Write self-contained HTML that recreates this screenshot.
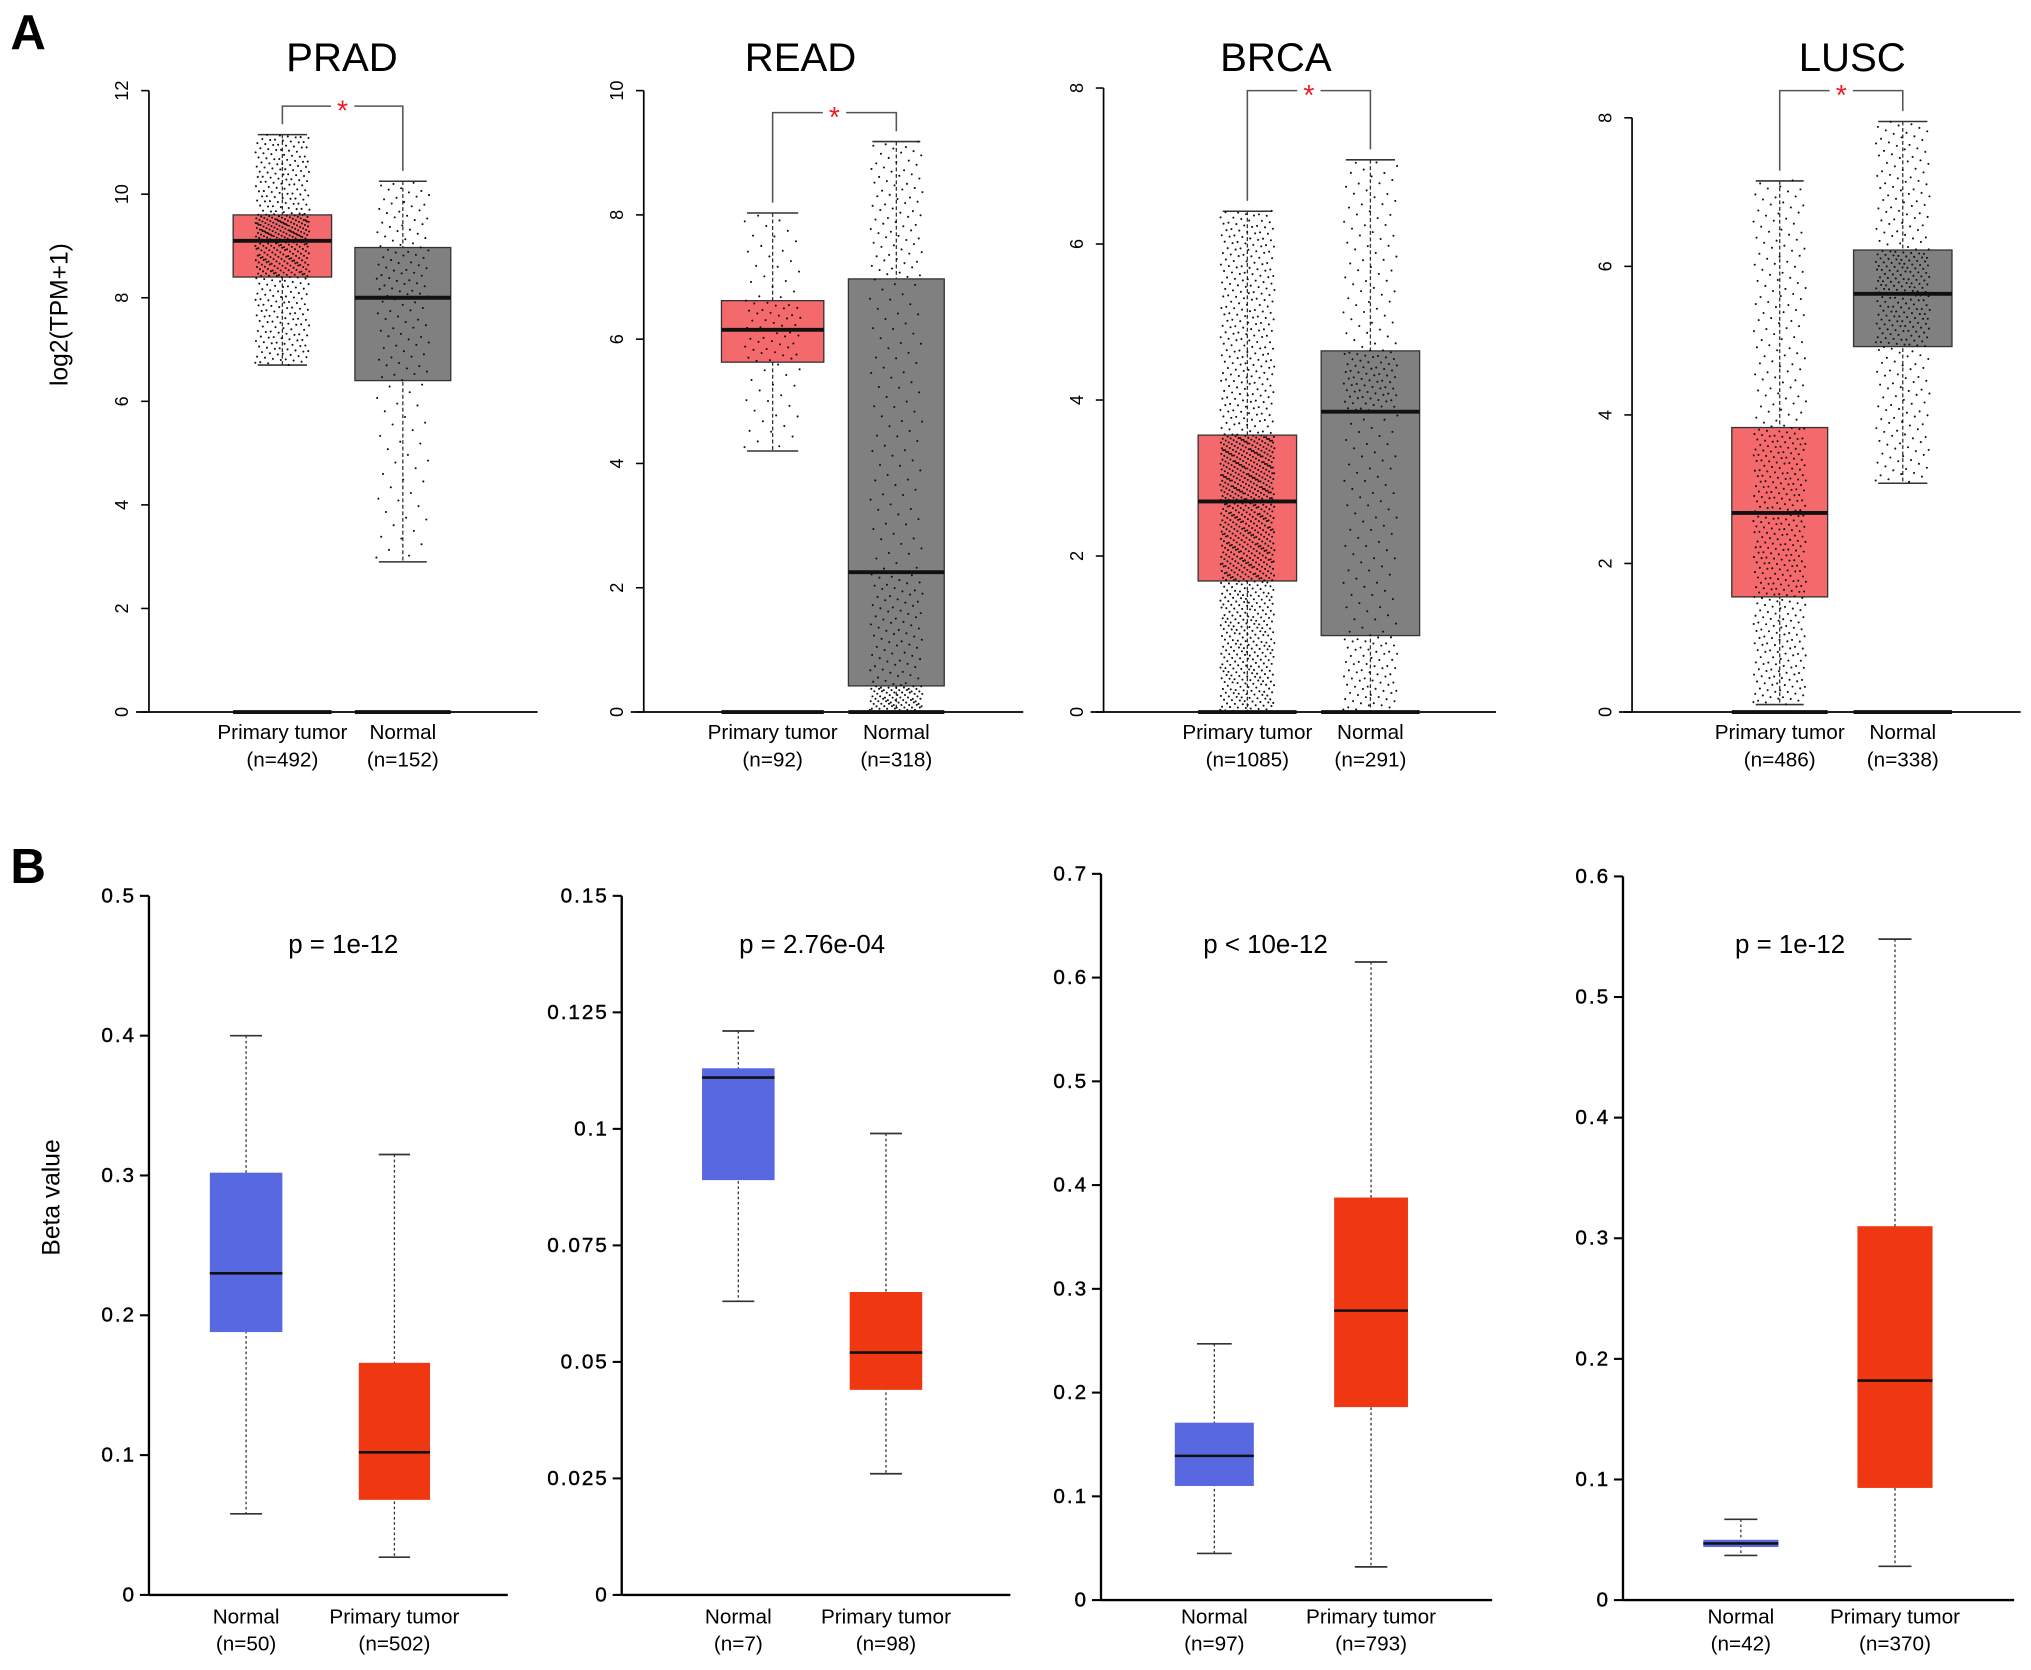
<!DOCTYPE html>
<html><head><meta charset="utf-8"><style>
html,body{margin:0;padding:0;background:#fff}
svg{display:block}
text{font-family:"Liberation Sans",Arial,sans-serif}
</style></head><body>
<svg id="fig" xmlns="http://www.w3.org/2000/svg" width="2031" height="1670" viewBox="0 0 1568 1290" preserveAspectRatio="none">
<rect width="1568" height="1290" fill="#fff"/>
<text x="8" y="38" font-size="38" font-weight="bold">A</text>
<text x="8" y="682" font-size="38" font-weight="bold">B</text>
<text transform="translate(52,243) rotate(-90)" text-anchor="middle" font-size="19">log2(TPM+1)</text>
<text transform="translate(46,925) rotate(-90)" text-anchor="middle" font-size="19">Beta value</text>
</svg>
<script>
// ---- Panel A data ----
const aTitles = ["PRAD","READ","BRCA","LUSC"];
const aMax = [12,10,8,8];
const aTickLabels = [["0","2","4","6","8","10","12"],["0","2","4","6","8","10"],["0","2","4","6","8"],["0","2","4","6","8"]];
const aGroups = ["Primary tumor","Normal"];
const aCounts = [["(n=492)","(n=152)"],["(n=92)","(n=318)"],["(n=1085)","(n=291)"],["(n=486)","(n=338)"]];
const aNums = [[492,152],[92,318],[1085,291],[486,338]];
// [low whisker, q1, median, q3, high whisker]
const aTumorStats = [[6.7,8.4,9.1,9.6,11.15],[4.2,5.63,6.15,6.62,8.03],[0,1.68,2.7,3.55,6.42],[0.1,1.55,2.68,3.83,7.15]];
const aNormalStats = [[2.9,6.4,8.0,8.97,10.25],[0,0.42,2.25,6.97,9.18],[0,0.98,3.85,4.63,7.08],[3.08,4.92,5.63,6.22,7.95]];
// ---- Panel B data ----
const bPvals = ["p = 1e-12","p = 2.76e-04","p < 10e-12","p = 1e-12"];
const bMax = [0.5,0.15,0.7,0.6];
const bTickLabels = [["0","0.1","0.2","0.3","0.4","0.5"],["0","0.025","0.05","0.075","0.1","0.125","0.15"],["0","0.1","0.2","0.3","0.4","0.5","0.6","0.7"],["0","0.1","0.2","0.3","0.4","0.5","0.6"]];
const bTickValues = [[0,0.1,0.2,0.3,0.4,0.5],[0,0.025,0.05,0.075,0.1,0.125,0.15],[0,0.1,0.2,0.3,0.4,0.5,0.6,0.7],[0,0.1,0.2,0.3,0.4,0.5,0.6]];
const bGroups = ["Normal","Primary tumor"];
const bCounts = [["(n=50)","(n=502)"],["(n=7)","(n=98)"],["(n=97)","(n=793)"],["(n=42)","(n=370)"]];
const bNormalStats = [[0.058,0.188,0.23,0.302,0.4],[0.063,0.089,0.111,0.113,0.121],[0.045,0.11,0.139,0.171,0.247],[0.037,0.044,0.047,0.05,0.067]];
const bTumorStats = [[0.027,0.068,0.102,0.166,0.315],[0.026,0.044,0.052,0.065,0.099],[0.032,0.186,0.279,0.388,0.615],[0.028,0.093,0.182,0.31,0.548]];

// layout (not data)
const aLayout = [
 {ax:115,top:70,bot:550,xend:415,b:[[180,256],[274,348]],tx:264,by:82},
 {ax:497,top:70,bot:550,xend:790,b:[[557,636],[655,729]],tx:618,by:87},
 {ax:852,top:68,bot:550,xend:1155,b:[[925,1001],[1020,1096]],tx:985,by:70},
 {ax:1260,top:91,bot:550,xend:1560,b:[[1337,1411],[1431,1507]],tx:1430,by:70}];
const bLayout = [
 {ax:115,top:692,bot:1232,xend:392,b:[[162,218],[277,332]],px:265},
 {ax:480,top:692,bot:1232,xend:780,b:[[542,598],[656,712]],px:627},
 {ax:850,top:675,bot:1236,xend:1152,b:[[907,968],[1030,1087]],px:977},
 {ax:1253,top:677,bot:1236,xend:1555,b:[[1315,1373],[1434,1492]],px:1382}];

const NS="http://www.w3.org/2000/svg";
const svg=document.getElementById('fig');
function mk(tag,attrs,parent){const e=document.createElementNS(NS,tag);for(const k in attrs)e.setAttribute(k,attrs[k]);(parent||svg).appendChild(e);return e;}
function quant(s,p){const ps=[0,0.25,0.5,0.75,1];for(let i=0;i<4;i++){if(p<=ps[i+1]){const t=(p-ps[i])/0.25;return s[i]+t*(s[i+1]-s[i]);}}return s[4];}

aLayout.forEach((L,pi)=>{
  const g=mk('g',{});
  
  
  const y=v=>L.bot-(v/aMax[pi])*(L.bot-L.top);
  const t=mk('text',{x:L.tx,y:55,'text-anchor':'middle','font-size':31},g);t.textContent=aTitles[pi];
  
  
  const ya=mk('line',{x1:L.ax,x2:L.ax,y1:y(aMax[pi]),y2:y(0),stroke:'#000','stroke-width':1.3},g);
  
  
  const xa=mk('line',{x1:L.ax-10,x2:L.xend,y1:L.bot,y2:L.bot,stroke:'#000','stroke-width':1.3},g);
  
  
  aTickLabels[pi].forEach((lab,i)=>{
    const v=i*2, yy=y(v);
    mk('line',{x1:L.ax-6,x2:L.ax,y1:yy,y2:yy,stroke:'#000','stroke-width':1.2},g);
    const tl=mk('text',{transform:`translate(${L.ax-16},${yy}) rotate(-90)`,'text-anchor':'middle','font-size':14},g);
    tl.textContent=lab;
    
    
  });
  [aTumorStats[pi],aNormalStats[pi]].forEach((s,gi)=>{
    const [x0,x1]=L.b[gi], cx=(x0+x1)/2, w=x1-x0;
    const col=gi===0?'#f4696b':'#808080';
    mk('line',{x1:cx,x2:cx,y1:y(s[4]),y2:y(s[0]),stroke:'#333','stroke-width':1,'stroke-dasharray':'3,2'},g);
    mk('line',{x1:cx-w*0.25,x2:cx+w*0.25,y1:y(s[4]),y2:y(s[4]),stroke:'#333','stroke-width':1.2},g);
    mk('line',{x1:cx-w*0.25,x2:cx+w*0.25,y1:y(s[0]),y2:y(s[0]),stroke:'#333','stroke-width':1.2},g);
    const r=mk('rect',{x:x0,y:y(s[3]),width:w,height:y(s[1])-y(s[3]),fill:col,stroke:'#333','stroke-width':1},g);
    
    
    mk('line',{x1:x0,x2:x1,y1:y(s[2]),y2:y(s[2]),stroke:'#111','stroke-width':3},g);
    mk('line',{x1:x0,x2:x1,y1:L.bot,y2:L.bot,stroke:'#111','stroke-width':3},g);
    const n=aNums[pi][gi];
    let path='';
    for(let i=0;i<n;i++){
      const p=(i+0.5)/n;
      const v=quant(s,p);
      const jx=cx+(((i*0.61803398875)%1)-0.5)*w*0.55;
      const yy=y(v)+(((i*0.7548776662)%1)-0.5)*3;
      path+=`M${jx.toFixed(1)},${yy.toFixed(1)}h0.01`;
    }
    const pts=mk('path',{d:path,stroke:'#111','stroke-width':1.6,'stroke-linecap':'round',fill:'none'},g);
    
    
    const l1=mk('text',{x:cx,y:571,'text-anchor':'middle','font-size':16},g);l1.textContent=aGroups[gi];
    
    
    const l2=mk('text',{x:cx,y:592,'text-anchor':'middle','font-size':16},g);l2.textContent=aCounts[pi][gi];
    
    
  });
  const c0=(L.b[0][0]+L.b[0][1])/2, c1=(L.b[1][0]+L.b[1][1])/2;
  const ly=y(aTumorStats[pi][4])-8, ry=y(aNormalStats[pi][4])-8;
  const br=mk('path',{d:`M${c0},${ly}V${L.by}H${c1}V${ry}`,stroke:'#555','stroke-width':1.2,fill:'none'},g);
  
  
  mk('rect',{x:(c0+c1)/2-9,y:L.by-5,width:18,height:10,fill:'#fff'},g);
  const st=mk('text',{x:(c0+c1)/2,y:L.by+11,'text-anchor':'middle','font-size':22,fill:'#ee1c25'},g);st.textContent='*';
  
  
});

bLayout.forEach((L,pi)=>{
  const g=mk('g',{});
  
  
  const y=v=>L.bot-(v/bMax[pi])*(L.bot-L.top);
  const ya=mk('line',{x1:L.ax,x2:L.ax,y1:y(bMax[pi]),y2:y(0),stroke:'#000','stroke-width':1.8},g);
  
  
  const xa=mk('line',{x1:L.ax,x2:L.xend,y1:L.bot,y2:L.bot,stroke:'#000','stroke-width':1.8},g);
  
  
  bTickLabels[pi].forEach((lab,i)=>{
    const yy=y(bTickValues[pi][i]);
    mk('line',{x1:L.ax-7,x2:L.ax,y1:yy,y2:yy,stroke:'#000','stroke-width':1.6},g);
    const tl=mk('text',{x:L.ax-10,y:yy+5,'text-anchor':'end','font-size':16,'letter-spacing':'1.5',stroke:'#000','stroke-width':0.3},g);
    tl.textContent=lab;
    
    
  });
  const pt=mk('text',{x:L.px,y:736,'text-anchor':'middle','font-size':20},g);pt.textContent=bPvals[pi];
  
  
  [bNormalStats[pi],bTumorStats[pi]].forEach((s,gi)=>{
    const [x0,x1]=L.b[gi], cx=(x0+x1)/2, w=x1-x0;
    const col=gi===0?'#5868e0':'#ef3712';
    mk('line',{x1:cx,x2:cx,y1:y(s[4]),y2:y(s[0]),stroke:'#333','stroke-width':1,'stroke-dasharray':'2,2'},g);
    mk('line',{x1:cx-w*0.22,x2:cx+w*0.22,y1:y(s[4]),y2:y(s[4]),stroke:'#333','stroke-width':1.3},g);
    mk('line',{x1:cx-w*0.22,x2:cx+w*0.22,y1:y(s[0]),y2:y(s[0]),stroke:'#333','stroke-width':1.3},g);
    const r=mk('rect',{x:x0,y:y(s[3]),width:w,height:Math.max(1,y(s[1])-y(s[3])),fill:col},g);
    
    
    mk('line',{x1:x0,x2:x1,y1:y(s[2]),y2:y(s[2]),stroke:'#111','stroke-width':2},g);
    const l1=mk('text',{x:cx,y:1254,'text-anchor':'middle','font-size':16},g);l1.textContent=bGroups[gi];
    
    
    const l2=mk('text',{x:cx,y:1275,'text-anchor':'middle','font-size':16},g);l2.textContent=bCounts[pi][gi];
    
    
  });
});
</script>
</body></html>
